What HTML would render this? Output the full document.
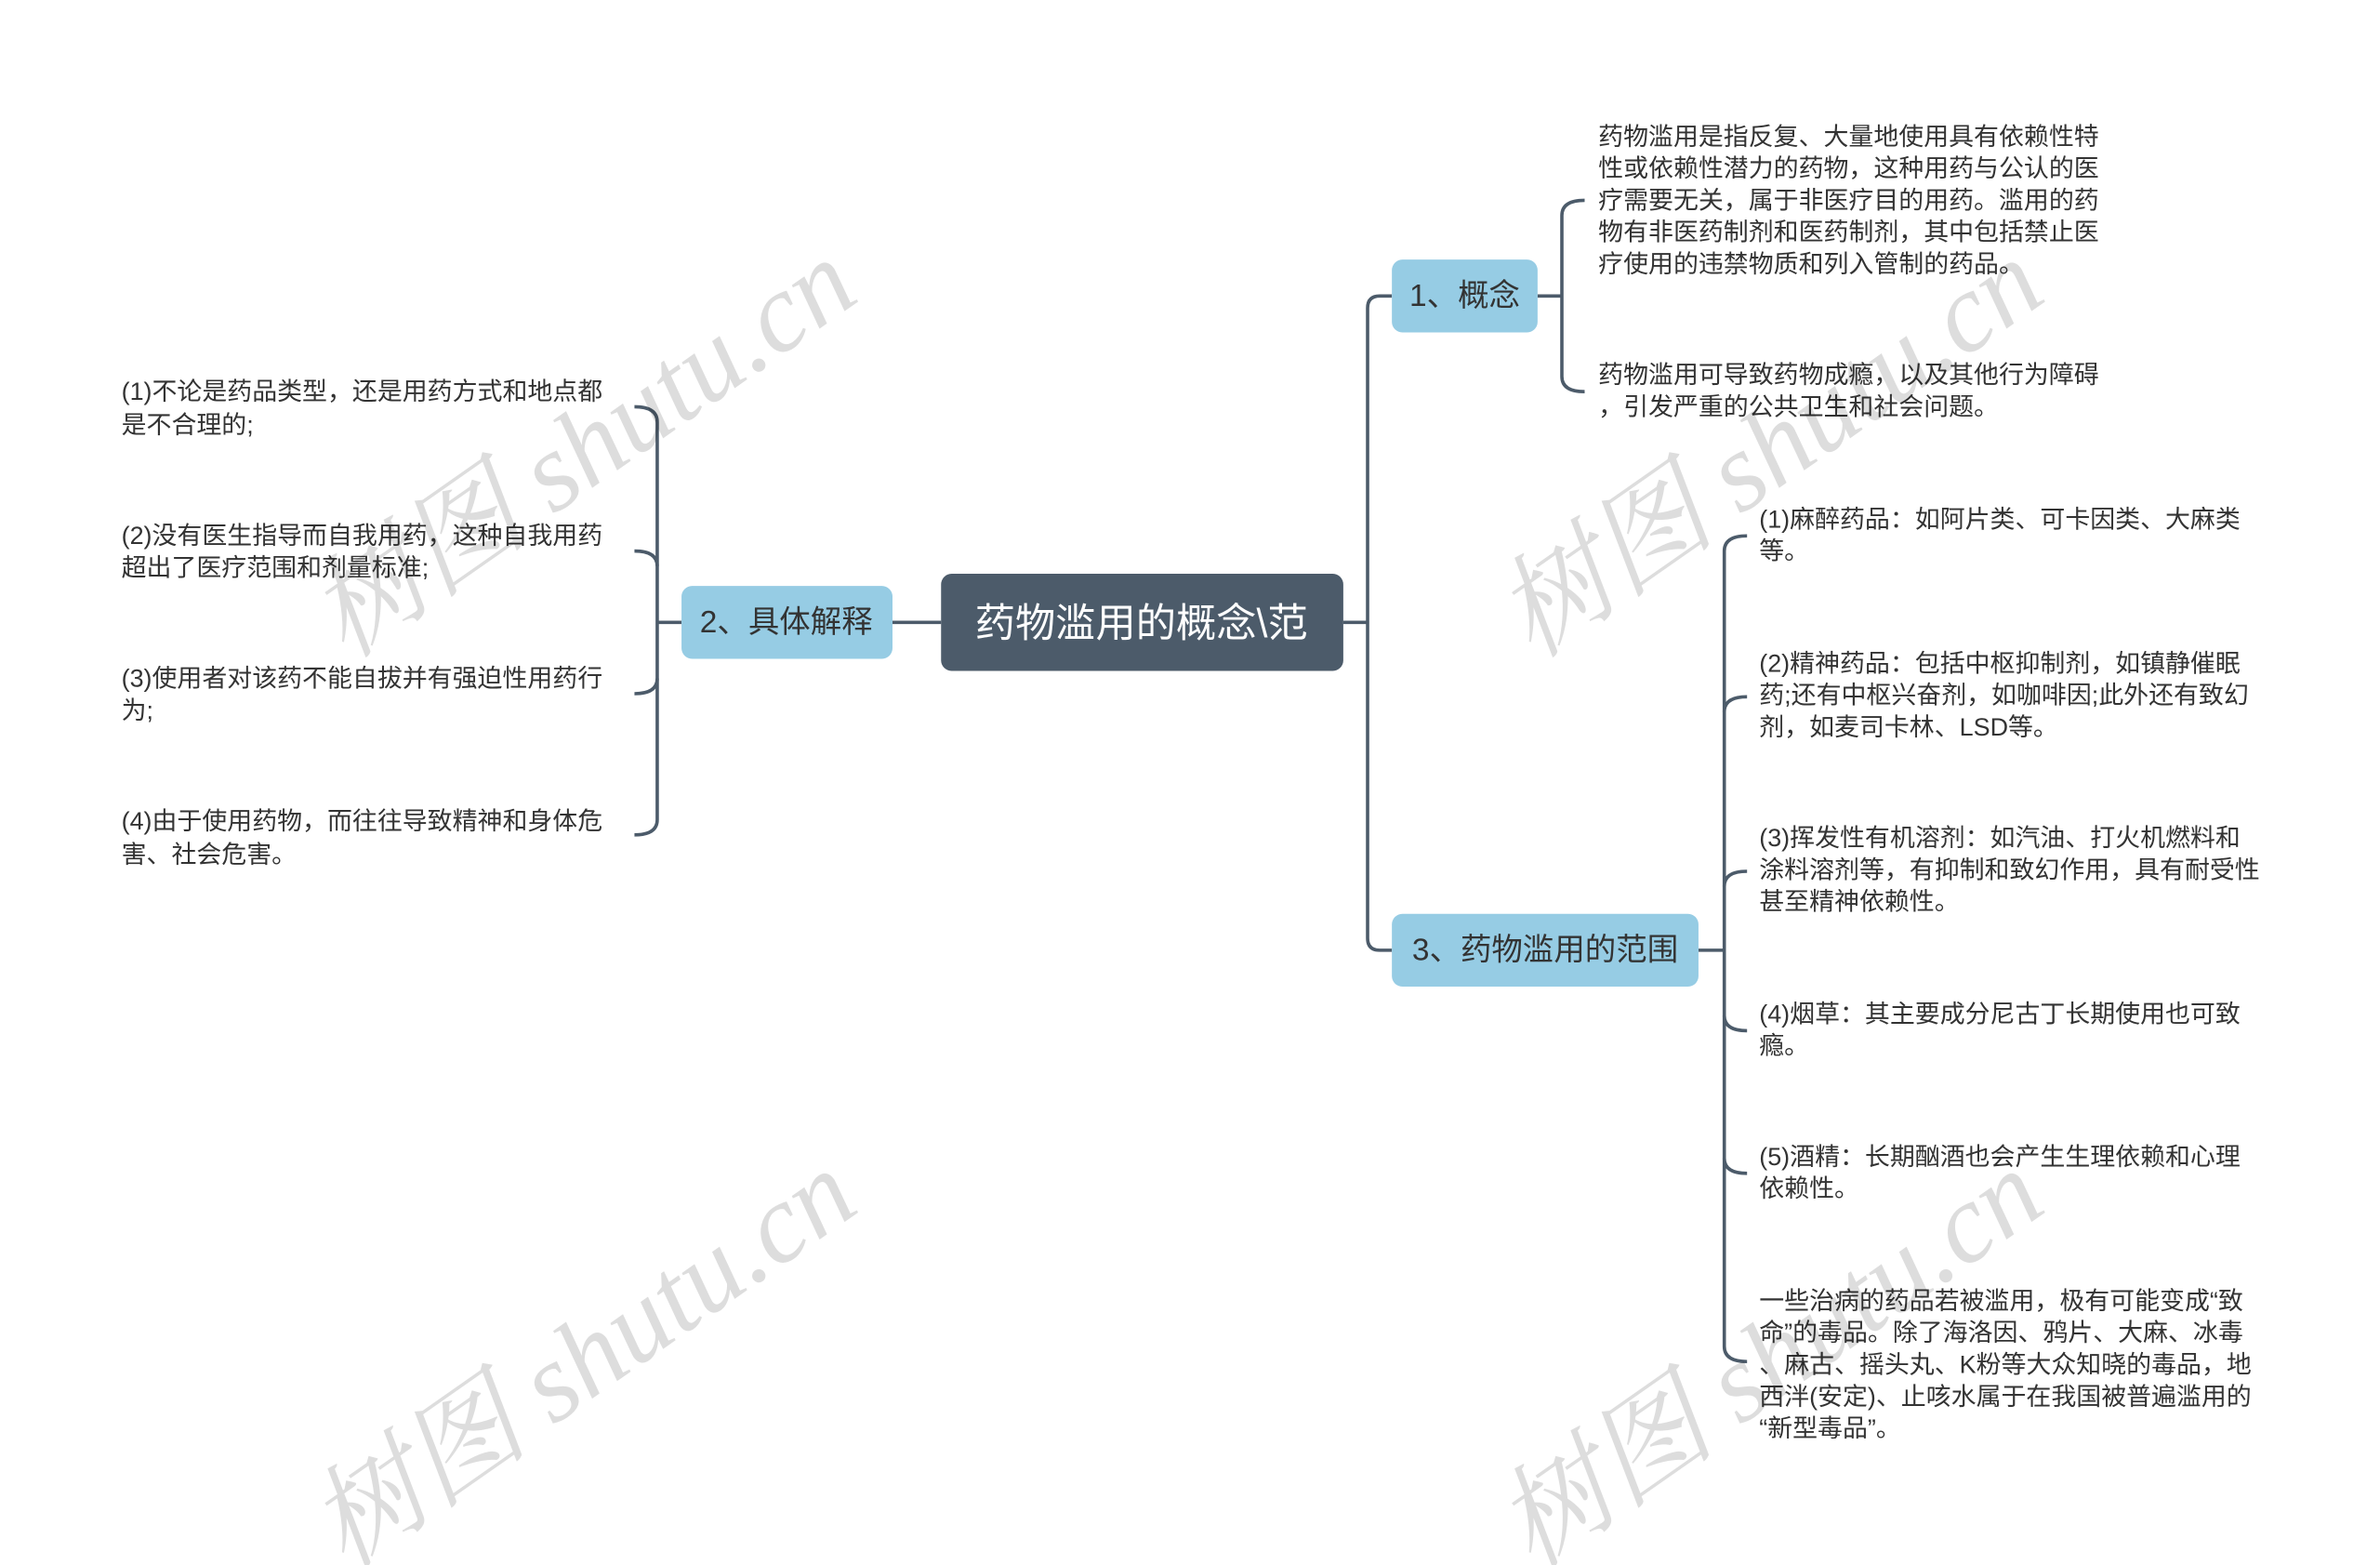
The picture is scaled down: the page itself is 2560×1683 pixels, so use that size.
<!DOCTYPE html>
<html><head><meta charset="utf-8"><style>
html,body{margin:0;padding:0;background:#fff;}
svg{display:block;}
text{font-family:"Liberation Sans","Noto Sans CJK SC",sans-serif;}
.t{font-size:16.5px;fill:#333;dominant-baseline:central;}
.wm{font-size:74px;fill:#000;opacity:0.13;font-family:"Liberation Serif","Noto Serif CJK SC",serif;font-style:italic;}
</style></head><body>
<svg width="2560" height="1683" viewBox="0 0 1568 1031" preserveAspectRatio="none" xmlns="http://www.w3.org/2000/svg">
<rect width="1568" height="1031" fill="#fff"/>
<g fill="none" stroke="#4c5b6a" stroke-width="2.2">
<path d="M885 410 H901"/>
<path d="M917 195 H909 Q901 195 901 203 V618 Q901 626 909 626 H917"/>
<path d="M620 410 H588"/>
<path d="M449 410 H433"/>
<path d="M418 268 Q433 268 433 278 V540 Q433 550 418 550"/>
<path d="M418 363 Q433 363 433 373"/>
<path d="M418 457 Q433 457 433 447"/>
<path d="M1013 195 H1029"/>
<path d="M1044 132 Q1029 132 1029 142 V248 Q1029 258 1044 258"/>
<path d="M1119 626 H1136"/>
<path d="M1151 353 Q1136 353 1136 363 V887 Q1136 897 1151 897"/>
<path d="M1151 459 Q1136 459 1136 469"/>
<path d="M1151 574 Q1136 574 1136 584"/>
<path d="M1151 679 Q1136 679 1136 669"/>
<path d="M1151 773 Q1136 773 1136 763"/>
</g>
<rect x="620" y="378" width="265" height="64" rx="7" fill="#4c5b6a"/>
<text x="752" y="411" font-size="26.5" fill="#fff" text-anchor="middle" dominant-baseline="central">药物滥用的概念\范</text>
<rect x="917" y="171" width="96" height="48" rx="7" fill="#96cce4"/>
<text x="965" y="195" font-size="20.5" fill="#333" text-anchor="middle" dominant-baseline="central">1、概念</text>
<rect x="449" y="386" width="139" height="48" rx="7" fill="#96cce4"/>
<text x="518" y="410" font-size="20.5" fill="#333" text-anchor="middle" dominant-baseline="central">2、具体解释</text>
<rect x="917" y="602" width="202" height="48" rx="7" fill="#96cce4"/>
<text x="1018" y="626" font-size="20.5" fill="#333" text-anchor="middle" dominant-baseline="central">3、药物滥用的范围</text>

<g class="t">
<text class="t" x="1053" y="90">药物滥用是指反复、大量地使用具有依赖性特</text>
<text class="t" x="1053" y="111">性或依赖性潜力的药物，这种用药与公认的医</text>
<text class="t" x="1053" y="132">疗需要无关，属于非医疗目的用药。滥用的药</text>
<text class="t" x="1053" y="153">物有非医药制剂和医药制剂，其中包括禁止医</text>
<text class="t" x="1053" y="174">疗使用的违禁物质和列入管制的药品。</text>
<text class="t" x="1053" y="247">药物滥用可导致药物成瘾，以及其他行为障碍</text>
<text class="t" x="1053" y="268">，引发严重的公共卫生和社会问题。</text>

<text class="t" x="80" y="258">(1)不论是药品类型，还是用药方式和地点都</text>
<text class="t" x="80" y="280">是不合理的;</text>
<text class="t" x="80" y="353">(2)没有医生指导而自我用药，这种自我用药</text>
<text class="t" x="80" y="374">超出了医疗范围和剂量标准;</text>
<text class="t" x="80" y="447">(3)使用者对该药不能自拔并有强迫性用药行</text>
<text class="t" x="80" y="468">为;</text>
<text class="t" x="80" y="541">(4)由于使用药物，而往往导致精神和身体危</text>
<text class="t" x="80" y="563">害、社会危害。</text>

<text class="t" x="1159" y="342">(1)麻醉药品：如阿片类、可卡因类、大麻类</text>
<text class="t" x="1159" y="363">等。</text>
<text class="t" x="1159" y="437">(2)精神药品：包括中枢抑制剂，如镇静催眠</text>
<text class="t" x="1159" y="458">药;还有中枢兴奋剂，如咖啡因;此外还有致幻</text>
<text class="t" x="1159" y="479">剂，如麦司卡林、LSD等。</text>
<text class="t" x="1159" y="552">(3)挥发性有机溶剂：如汽油、打火机燃料和</text>
<text class="t" x="1159" y="573">涂料溶剂等，有抑制和致幻作用，具有耐受性</text>
<text class="t" x="1159" y="594">甚至精神依赖性。</text>
<text class="t" x="1159" y="668">(4)烟草：其主要成分尼古丁长期使用也可致</text>
<text class="t" x="1159" y="689">瘾。</text>
<text class="t" x="1159" y="762">(5)酒精：长期酗酒也会产生生理依赖和心理</text>
<text class="t" x="1159" y="783">依赖性。</text>
<text class="t" x="1159" y="857">一些治病的药品若被滥用，极有可能变成“致</text>
<text class="t" x="1159" y="878">命”的毒品。除了海洛因、鸦片、大麻、冰毒</text>
<text class="t" x="1159" y="899">、麻古、摇头丸、K粉等大众知晓的毒品，地</text>
<text class="t" x="1159" y="920">西泮(安定)、止咳水属于在我国被普遍滥用的</text>
<text class="t" x="1159" y="941">“新型毒品”。</text>
</g>

<text class="wm" transform="translate(228,435) rotate(-35)">树图 shutu.cn</text>
<text class="wm" transform="translate(228,1035) rotate(-35)">树图 shutu.cn</text>
<text class="wm" transform="translate(1010,435) rotate(-35)">树图 shutu.cn</text>
<text class="wm" transform="translate(1010,1035) rotate(-35)">树图 shutu.cn</text>
</svg>
</body></html>
